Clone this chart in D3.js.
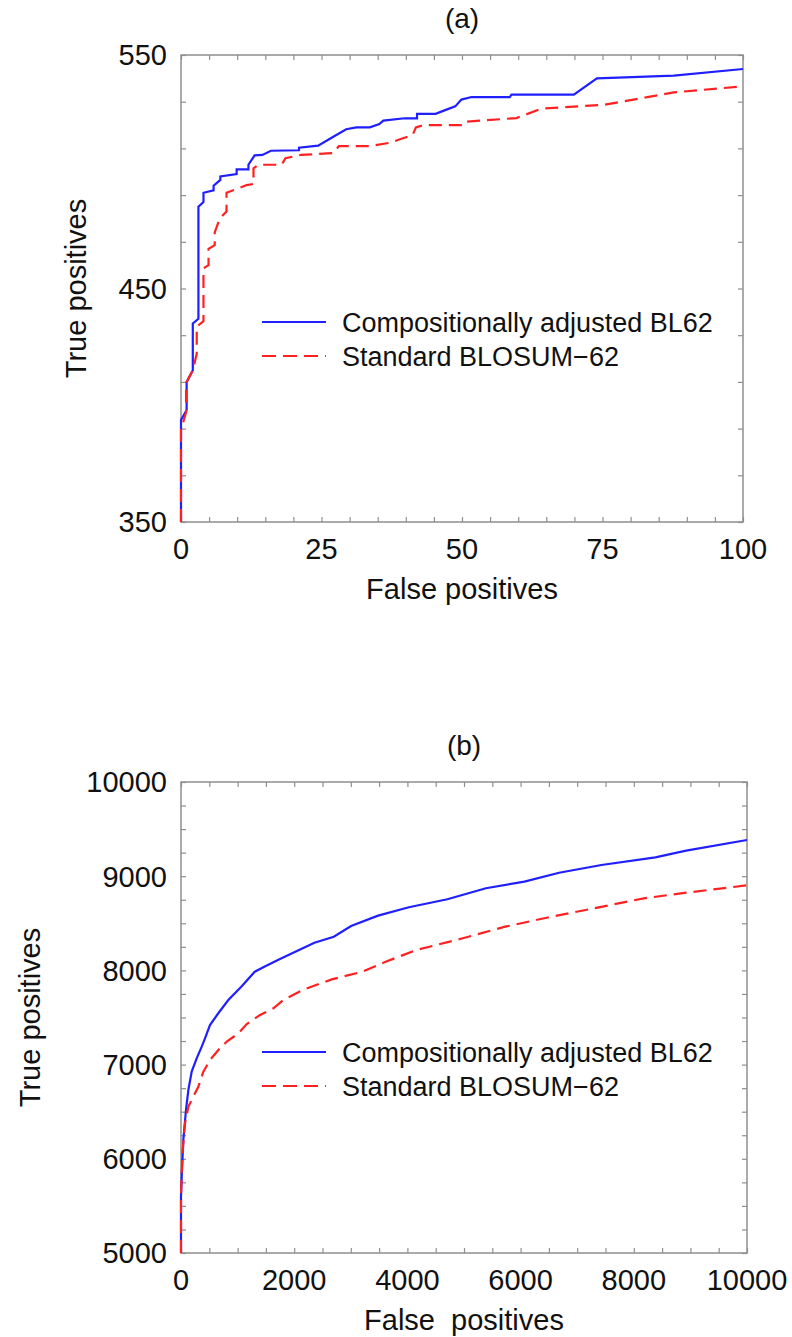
<!DOCTYPE html>
<html>
<head>
<meta charset="utf-8">
<script src="https://cdn.jsdelivr.net/npm/d3@7"></script>
<style>
    body { margin: 0; background: #fff; }
    svg text { font-family: "Liberation Sans", Arial, sans-serif; fill: #111; white-space: pre; }
</style>
</head>
<body>
<svg id="chart" width="792" height="1337"></svg>
<script>
// panel (a): false positives vs true positives, 0..100
var aXTicks = [0, 25, 50, 75, 100];
var aYTicks = [350, 450, 550];
var aAdjusted = [[0,350],[0,393.7],[1.0,398],[1.0,410],[2.1,415],[2.1,435],[3.1,437],[3.1,485],[4.0,487],[4.0,491],
    [5.8,492],[5.8,494],[7.0,496.5],[7.0,498],[9.9,499],[9.9,501],[12.0,501],[12.0,503],[13.1,507],[14.5,507.2],
    [16.0,509],[21.0,509.2],[21.0,510.3],[24.4,511.2],[27.1,515],[29.4,518.2],[31.2,519],[33.6,519],[35.3,520.4],
    [36.0,521.9],[39.8,522.9],[42.0,522.9],[42.0,524.8],[45.3,524.8],[47.0,526.4],[48.8,528],[49.9,530.9],[51.7,532],
    [58.5,532],[58.8,533],[69.9,533],[74.0,540],[87.7,541.2],[100,544]];
var aStandard = [[0,350],[0,389.4],[0.9,397],[0.9,409.4],[2.1,415],[2.8,422],[2.8,433.6],[4.0,436],[4.0,458.6],
    [4.9,460],[4.9,467],[6.0,468.6],[6.0,474],[6.9,480],[8.1,483],[8.1,491],[11.7,494.3],[12.9,494.8],[12.9,501.5],
    [13.8,503],[17.9,503],[18.6,505.8],[21.3,507.2],[27.1,508],[28.1,511],[33.6,511],[37.4,512.5],[39.1,514],
    [41.2,515.7],[41.8,519],[43.2,520],[50,520],[50.4,521.4],[59.7,523],[64.1,527],[75.4,528.7],[80.5,530.9],
    [87.7,534],[100,536.6]];

// panel (b): 0..10000
var bXTicks = [0, 2000, 4000, 6000, 8000, 10000];
var bYTicks = [5000, 6000, 7000, 8000, 9000, 10000];
var bAdjusted = [[0,5000],[0,5600],[15,5850],[41,6200],[88,6518],[130,6730],[189,6925],[277,7067],[366,7190],
    [424,7279],[512,7420],[659,7545],[836,7686],[1065,7827],[1303,7986],[1472,8039],[1712,8110],[2085,8217],
    [2357,8294],[2700,8358],[3005,8471],[3482,8581],[4026,8670],[4706,8755],[5387,8872],[6067,8942],[6680,9037],
    [7428,9119],[8381,9200],[8925,9271],[10000,9384]];
var bStandard = [[0,5000],[0,5600],[12,5850],[30,6093],[71,6377],[130,6553],[218,6659],[306,6765],[395,6925],
    [513,7049],[660,7155],[808,7243],[1014,7332],[1162,7431],[1398,7527],[1633,7598],[1810,7686],[2152,7792],
    [2663,7905],[3207,7986],[3615,8092],[4160,8217],[4979,8341],[5727,8464],[6545,8570],[7294,8659],[8179,8765],
    [8925,8825],[10000,8903]];

var seriesNames = ["Compositionally adjusted BL62", "Standard BLOSUM\u221262"];

var svg = d3.select("#chart");
var frameColor = "#8f8f8f";

function drawPanel(opt) {
    var g = svg.append("g");
    var x = d3.scaleLinear().domain(opt.xDomain).range([opt.left, opt.right]);
    var y = d3.scaleLinear().domain(opt.yDomain).range([opt.bottom, opt.top]);

    // ticks on all four sides, pointing inward
    var xt = d3.range(opt.xDomain[0], opt.xDomain[1] + 1e-9, opt.xMinor);
    var yt = d3.range(opt.yDomain[0], opt.yDomain[1] + 1e-9, opt.yMinor);
    var tl = 5;
    g.append("g").call(d3.axisTop(x).tickValues(xt).tickSize(tl).tickFormat(""))
        .attr("transform", "translate(0," + opt.bottom + ")");
    g.append("g").call(d3.axisBottom(x).tickValues(xt).tickSize(tl).tickFormat(""))
        .attr("transform", "translate(0," + opt.top + ")");
    g.append("g").call(d3.axisRight(y).tickValues(yt).tickSize(tl).tickFormat(""))
        .attr("transform", "translate(" + opt.left + ",0)");
    g.append("g").call(d3.axisLeft(y).tickValues(yt).tickSize(tl).tickFormat(""))
        .attr("transform", "translate(" + opt.right + ",0)");
    g.selectAll(".domain").remove();
    g.selectAll(".tick line").attr("stroke", frameColor).attr("stroke-width", 1.2);

    g.append("rect")
        .attr("x", opt.left).attr("y", opt.top)
        .attr("width", opt.right - opt.left).attr("height", opt.bottom - opt.top)
        .attr("fill", "none").attr("stroke", frameColor).attr("stroke-width", 1.5);

    // tick labels
    g.selectAll(".xl").data(opt.xTicks).enter().append("text")
        .attr("x", function (d) { return x(d); })
        .attr("y", opt.bottom + 37)
        .attr("text-anchor", "middle")
        .style("font-size", "29px")
        .text(function (d) { return d; });
    g.selectAll(".yl").data(opt.yTicks).enter().append("text")
        .attr("x", opt.left - 14)
        .attr("y", function (d) { return y(d); })
        .attr("dy", "0.36em")
        .attr("text-anchor", "end")
        .style("font-size", "29px")
        .text(function (d) { return d; });

    // titles
    g.append("text")
        .attr("x", (opt.left + opt.right) / 2)
        .attr("y", opt.top - 27)
        .attr("text-anchor", "middle")
        .style("font-size", "28px")
        .text(opt.title);
    g.append("text")
        .attr("x", (opt.left + opt.right) / 2)
        .attr("y", opt.bottom + 77)
        .attr("text-anchor", "middle")
        .style("font-size", "29px")
        .text(opt.xLabel);
    g.append("text")
        .attr("transform", "translate(" + opt.yLabelX + "," + ((opt.top + opt.bottom) / 2) + ")rotate(-90)")
        .attr("text-anchor", "middle")
        .style("font-size", "29px")
        .text("True positives");

    var line = d3.line()
        .x(function (d) { return x(d[0]); })
        .y(function (d) { return y(d[1]); });

    g.append("path").datum(opt.adjusted)
        .attr("d", line)
        .attr("fill", "none").attr("stroke", "#1f1fff").attr("stroke-width", 2.2);
    g.append("path").datum(opt.standard)
        .attr("d", line)
        .attr("fill", "none").attr("stroke", "#ff2020").attr("stroke-width", 2.2)
        .attr("stroke-dasharray", "13,7");

    // legend
    var lg = g.append("g");
    var styles = [{c: "#1f1fff", dash: null}, {c: "#ff2020", dash: "14,7"}];
    seriesNames.forEach(function (name, i) {
        var ly = opt.legendY + i * 34;
        lg.append("line")
            .attr("x1", 262).attr("x2", 326).attr("y1", ly).attr("y2", ly)
            .attr("stroke", styles[i].c).attr("stroke-width", 2)
            .attr("stroke-dasharray", styles[i].dash);
        lg.append("text")
            .attr("x", 342).attr("y", ly).attr("dy", "0.36em")
            .style("font-size", "27px")
            .text(name);
    });
}

drawPanel({
    left: 181, right: 743, top: 55, bottom: 522,
    xDomain: [0, 100], yDomain: [350, 550], xMinor: 5, yMinor: 20,
    xTicks: aXTicks, yTicks: aYTicks,
    adjusted: aAdjusted, standard: aStandard,
    title: "(a)", xLabel: "False positives", yLabelX: 86, legendY: 322
});

drawPanel({
    left: 181, right: 747, top: 782, bottom: 1253,
    xDomain: [0, 10000], yDomain: [5000, 10000], xMinor: 500, yMinor: 250,
    xTicks: bXTicks, yTicks: bYTicks,
    adjusted: bAdjusted, standard: bStandard,
    title: "(b)", xLabel: "False  positives", yLabelX: 40, legendY: 1052
});
</script>
</body>
</html>
